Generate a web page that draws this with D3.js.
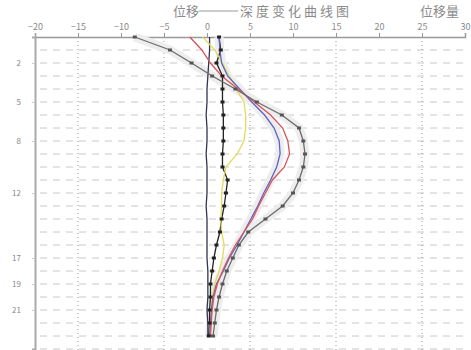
<!DOCTYPE html>
<meta charset="utf-8">
<style>
    body { margin: 0; background: #fff; }
    text { font-family: "Noto Sans CJK SC", "DejaVu Sans", sans-serif; fill: #8a8a8a; }
    .grid { stroke: #c8c8c8; stroke-width: 1px; stroke-dasharray: 7,6; }
    .vgrid { stroke: #9a9a9a; stroke-width: 1px; stroke-dasharray: 1,3; }
    .line { fill: none; stroke-width: 1.3px; }
</style>

<body>
    <script src="https://d3js.org/d3.v7.min.js"></script>
    <script>

        // depth (m) of each reading
        var depths = [0, 1, 2, 3, 4, 5, 6, 7, 8, 9, 10, 11, 12, 13, 14, 15, 16, 17, 18, 19, 20, 21, 22, 23];

        // displacement (mm) per survey
        var survey0 = [0.3, 0.3, 0.2, 0.1, 0.0, 0.0, -0.1, 0.0, 0.0, -0.1, 0.0, 0.0, 0.0, -0.1, 0.0, 0.0, 0.0, 0.0, 0.1, 0.1, 0.1, 0.0, 0.1, 0.1];
        var survey1 = [1.4, 1.6, 1.1, 1.8, 1.8, 1.8, 1.9, 1.9, 1.9, 1.8, 1.8, 2.4, 2.2, 2.0, 1.7, 1.5, 1.1, 0.8, 0.6, 0.4, 0.4, 0.3, 0.3, 0.2];
        var survey2 = [-0.5, 0.9, 1.8, 2.6, 3.4, 4.3, 4.5, 4.5, 4.3, 3.5, 2.2, 1.9, 1.7, 1.7, 1.6, 1.7, 2.0, 1.8, 1.4, 0.9, 0.6, 0.5, 0.4, 0.3];
        var survey3 = [1.4, 1.5, 1.7, 2.4, 3.8, 5.2, 6.7, 7.8, 8.4, 8.5, 8.1, 7.4, 6.6, 5.9, 5.1, 4.3, 3.5, 2.6, 1.9, 1.1, 0.7, 0.5, 0.4, 0.3];
        var survey4 = [-2.0, -0.6, 0.4, 1.7, 3.6, 5.5, 7.4, 8.8, 9.4, 9.6, 9.0, 7.6, 6.8, 6.0, 5.3, 4.3, 3.3, 2.5, 1.8, 1.2, 0.8, 0.6, 0.5, 0.4];
        var survey5 = [-8.4, -4.3, -1.8, 0.6, 3.3, 5.8, 8.7, 10.7, 11.2, 11.4, 11.2, 10.7, 10.0, 8.8, 6.8, 4.8, 3.7, 3.0, 2.3, 1.8, 1.4, 1.1, 0.9, 0.7];

        var seriesColors = ["#2e3550", "#222222", "#e2dc5a", "#5b63c8", "#d9545a", "#6c6c6c"];

        // axis ticks
        var xTicks = [-20, -15, -10, -5, 0, 5, 10, 15, 20, 25, 30];
        var xGridTicks = [-15, -5, 5, 15, 25];
        var yTicks = [2, 5, 8, 12, 17, 19, 21];

        var width = 471, height = 350;

        var x = d3.scaleLinear().domain([-20, 30]).range([35, 465]);
        var y = d3.scaleLinear().domain([0, 24]).range([37, 349]);

        var svg = d3.select("body").append("svg")
            .attr("width", width)
            .attr("height", height);

        // horizontal dashed grid, one per metre
        svg.selectAll(".grid")
            .data(depths.concat([24]).slice(1))
            .enter().append("line")
            .attr("class", "grid")
            .attr("x1", x(-20) + 5).attr("x2", x(30))
            .attr("y1", function (d) { return y(d); })
            .attr("y2", function (d) { return y(d); });

        // vertical dotted grid
        svg.selectAll(".vgrid")
            .data(xGridTicks)
            .enter().append("line")
            .attr("class", "vgrid")
            .attr("x1", function (d) { return x(d); })
            .attr("x2", function (d) { return x(d); })
            .attr("y1", y(0)).attr("y2", height);

        // top axis
        var xAxis = svg.append("g")
            .attr("transform", "translate(0," + y(0) + ")")
            .call(d3.axisTop(x).tickValues(xTicks).tickSize(4));
        xAxis.select(".domain").attr("stroke", "#999").attr("stroke-width", 1.5);
        xAxis.selectAll(".tick line").attr("stroke", "#999");
        xAxis.selectAll(".tick text").attr("font-size", "9px").attr("fill", "#a0a0a0");

        // left depth axis
        var yAxis = svg.append("g")
            .attr("transform", "translate(" + x(-20) + ",0)")
            .call(d3.axisLeft(y).tickValues(yTicks).tickSize(3));
        yAxis.select(".domain").attr("stroke", "#aaa").attr("stroke-width", 2);
        yAxis.selectAll(".tick line").attr("stroke", "#ccc");
        yAxis.selectAll(".tick text").attr("font-size", "8px").attr("fill", "#b4b4b4").attr("x", -14);

        // curves
        var allSeries = [survey0, survey1, survey2, survey3, survey4, survey5];

        var line = d3.line()
            .x(function (d) { return x(d[0]); })
            .y(function (d) { return y(d[1]); });

        function pairs(vals) {
            return vals.map(function (v, i) { return [v, depths[i]]; });
        }

        // soft halo behind the outer curves
        [survey3, survey5].forEach(function (s) {
            svg.append("path")
                .datum(pairs(s))
                .attr("class", "line")
                .style("stroke", "#ededed")
                .style("stroke-width", 9)
                .attr("d", line);
        });

        allSeries.forEach(function (s, i) {
            svg.append("path")
                .datum(pairs(s))
                .attr("class", "line")
                .style("stroke", seriesColors[i])
                .attr("d", line);
        });

        // markers on the black and grey surveys
        [[survey1, "#222"], [survey5, "#555"]].forEach(function (p) {
            svg.selectAll(null)
                .data(pairs(p[0]))
                .enter().append("rect")
                .attr("x", function (d) { return x(d[0]) - 2; })
                .attr("y", function (d) { return y(d[1]) - 1.5; })
                .attr("width", 4).attr("height", 3)
                .attr("fill", p[1]);
        });

        // title
        svg.append("text")
            .attr("x", 173).attr("y", 16)
            .attr("font-size", "13px")
            .text("位移");
        svg.append("line")
            .attr("x1", 199).attr("x2", 238)
            .attr("y1", 11).attr("y2", 11)
            .attr("stroke", "#999").attr("stroke-width", 1);
        svg.append("text")
            .attr("x", 240).attr("y", 16)
            .attr("font-size", "13px")
            .style("letter-spacing", "3px")
            .text("深度变化曲线图");
        svg.append("text")
            .attr("x", 420).attr("y", 16)
            .attr("font-size", "13px")
            .text("位移量");

    </script>
</body>
